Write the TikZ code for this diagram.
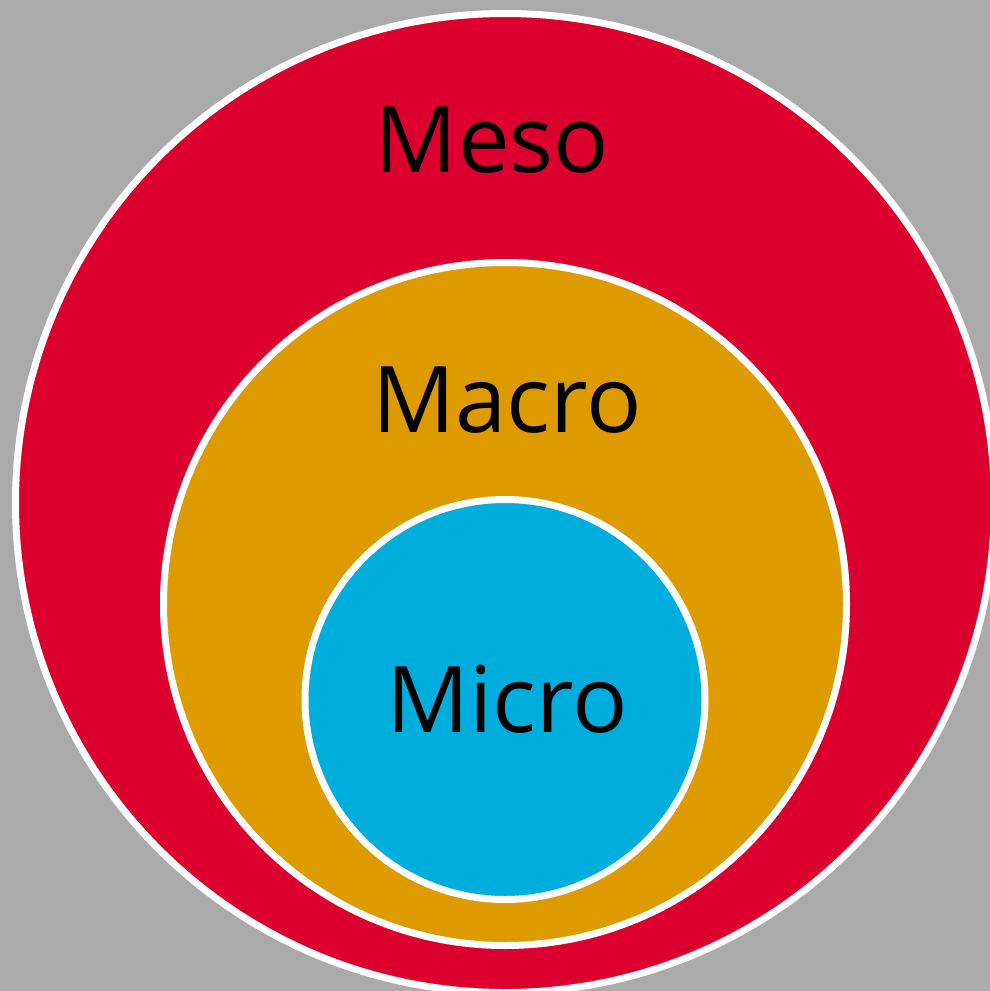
\documentclass[tikz,border=0pt]{standalone}
\usepackage{fontspec}
\setmainfont{Open Sans}
\definecolor{bggray}{HTML}{AAAAAA}
\definecolor{mesored}{HTML}{DC002E}
\definecolor{macroorange}{HTML}{DD9B00}
\definecolor{microblue}{HTML}{00AEDD}
\begin{document}
\begin{tikzpicture}[x=1pt,y=-1pt,
  ring/.style={circle, draw=white, line width=7pt, inner sep=0pt, outer sep=0pt},
  lbl/.style={anchor=base, inner sep=0pt, font=\fontsize{92}{100}\selectfont, text=black}]
\useasboundingbox (0,0) rectangle (990,991);
\clip (0,0) rectangle (990,991);
\fill[bggray] (0,0) rectangle (990,991);
\node[ring, fill=mesored, minimum size=979pt] (meso) at (505,503) {};
\node[ring, fill=macroorange, minimum size=683pt] (macro) at (505,604) {};
\node[ring, fill=microblue, minimum size=400pt] (micro) at (505,699.5) {};
\node[lbl] (mesotxt) at (492,172) {Meso};
\node[lbl] (macrotxt) at (507,432) {Macro};
\node[lbl] (microtxt) at (507,732) {Micro};
\end{tikzpicture}
\end{document}
